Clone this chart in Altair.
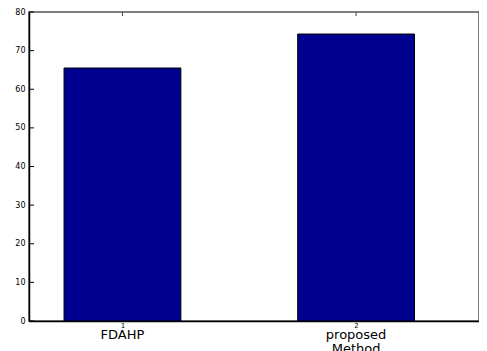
import altair as alt
import pandas as pd

positions = [1, 2]
methods = ["FDAHP", "proposed\nMethod"]
values = [65.5, 74.3]
y_ticks = [0, 10, 20, 30, 40, 50, 60, 70, 80]
x_ticks = [1, 2]

bars_df = pd.DataFrame({"pos": positions, "name": methods, "value": values})
yt_df = pd.DataFrame({"t": y_ticks})

W, H = 450, 309
FONT = "DejaVu Sans"

xscale = alt.Scale(domain=[0.6, 2.526], nice=False, zero=False)
yscale = alt.Scale(domain=[0, 80], nice=False)

xaxis = alt.Axis(values=x_ticks, format="d", labelPadding=0, labelFontSize=7)
yaxis = alt.Axis(values=y_ticks, format="d", labelPadding=4, labelFontSize=8)

bars = alt.Chart(bars_df).mark_rect(color="#00008F", stroke="black", strokeWidth=1).transform_calculate(
    left="datum.pos - 0.25", right="datum.pos + 0.25"
).encode(
    x=alt.X("left:Q", scale=xscale, title=None, axis=xaxis),
    x2="right:Q",
    y=alt.Y("value:Q", scale=yscale, title=None, axis=yaxis),
    y2=alt.datum(0),
)

yticks = alt.Chart(yt_df).mark_rule(color="black", strokeWidth=1).encode(
    y=alt.Y("t:Q", scale=yscale, title=None, axis=yaxis),
    x=alt.value(0), x2=alt.value(5),
)

topticks = alt.Chart(bars_df).mark_rule(color="#444444", strokeWidth=1).encode(
    x=alt.X("pos:Q", scale=xscale, title=None, axis=xaxis),
    y=alt.value(0), y2=alt.value(4),
)

names = alt.Chart(bars_df).mark_text(
    font=FONT, fontSize=13, baseline="alphabetic", lineBreak="\n", lineHeight=14, color="black"
).encode(
    x=alt.X("pos:Q", scale=xscale, title=None, axis=xaxis),
    y=alt.value(H + 18),
    text="name:N",
)

chart = alt.layer(bars, yticks, topticks, names).properties(
    width=W, height=H,
    autosize=alt.AutoSizeParams(type="none"),
    padding={"left": 21, "top": 4, "right": 0, "bottom": 30},
).configure_view(
    stroke="#555555", strokeWidth=1.5
).configure_axis(
    grid=False, tickSize=0, labelOverlap=False, labelFont=FONT,
    labelColor="black", domainColor="black", domainWidth=1.5,
)

chart.save("out.html", embed_options={"renderer": "svg", "actions": False})
